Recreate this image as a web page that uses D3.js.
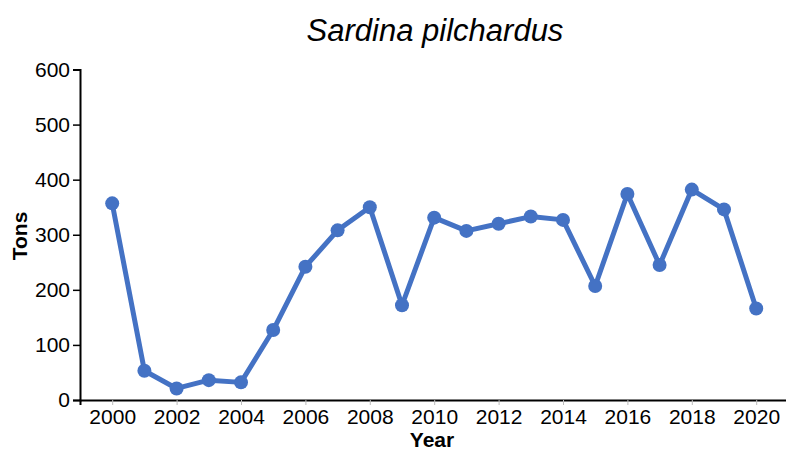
<!DOCTYPE html>
<html>
<head>
<meta charset="utf-8">
<script src="https://cdn.jsdelivr.net/npm/d3@7"></script>
<style>
  html, body { margin: 0; padding: 0; background: #fff; }
  svg { display: block; font-family: "Liberation Sans", Arial, sans-serif; }
</style>
</head>
<body>
<svg id="chart" width="786" height="450"></svg>
<script>
// Annual landings of Sardina pilchardus (tons)
const years = [2000, 2001, 2002, 2003, 2004, 2005, 2006, 2007, 2008, 2009, 2010,
               2011, 2012, 2013, 2014, 2015, 2016, 2017, 2018, 2019, 2020];
const tons = [357, 53, 21, 36, 32, 127, 242, 308, 350, 172, 331,
              307, 320, 333, 327, 207, 374, 245, 382, 346, 166];
const yTicks = [0, 100, 200, 300, 400, 500, 600];
const xTicks = [2000, 2002, 2004, 2006, 2008, 2010, 2012, 2014, 2016, 2018, 2020];

const svg = d3.select("#chart");
const color = "#4472C4";

const x = d3.scaleLinear().domain([1999, 2021]).range([80, 788.4]);
const y = d3.scaleLinear().domain([0, 600]).range([400, 69.5]);

// Axes
const xAxis = svg.append("g")
  .attr("transform", "translate(0,400)")
  .call(d3.axisBottom(x).tickValues(xTicks).tickFormat(d3.format("d")).tickSizeOuter(0).tickSize(5).tickPadding(4));
const yAxis = svg.append("g")
  .attr("transform", "translate(80,0)")
  .call(d3.axisLeft(y).tickValues(yTicks).tickSizeOuter(0).tickSize(7).tickPadding(3));

[xAxis, yAxis].forEach(g => {
  g.attr("font-size", "21").attr("font-family", "Liberation Sans, Arial, sans-serif");
  g.select(".domain").attr("stroke", "#000").attr("stroke-width", 2);
  g.selectAll(".tick line").attr("stroke", "#000").attr("stroke-width", 1.5);
  g.selectAll(".tick text").attr("fill", "#000").attr("font-size", 21);
});
xAxis.selectAll(".tick line").attr("stroke", "#bbb").attr("stroke-width", 1);

// Series line and markers
const line = d3.line().x((d, i) => x(years[i])).y(d => y(d));
svg.append("path")
  .datum(tons)
  .attr("fill", "none")
  .attr("stroke", color)
  .attr("stroke-width", 5)
  .attr("stroke-linejoin", "round")
  .attr("d", line);

svg.append("g").selectAll("circle")
  .data(tons)
  .join("circle")
  .attr("cx", (d, i) => x(years[i]))
  .attr("cy", d => y(d))
  .attr("r", 7)
  .attr("fill", color);

// Titles
svg.append("text")
  .attr("x", 435).attr("y", 41)
  .attr("text-anchor", "middle")
  .attr("font-size", 31).attr("font-style", "italic")
  .text("Sardina pilchardus");

svg.append("text")
  .attr("x", 432).attr("y", 447)
  .attr("text-anchor", "middle")
  .attr("font-size", 21).attr("font-weight", "bold")
  .text("Year");

svg.append("text")
  .attr("transform", "translate(27,236) rotate(-90)")
  .attr("text-anchor", "middle")
  .attr("font-size", 21).attr("font-weight", "bold")
  .text("Tons");
</script>
</body>
</html>
